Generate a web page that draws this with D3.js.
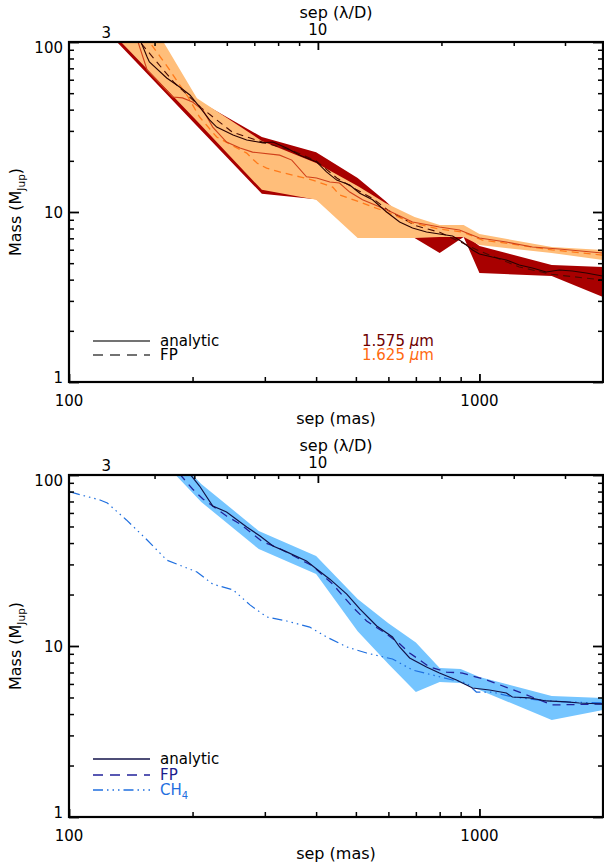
<!DOCTYPE html>
<html><head><meta charset="utf-8">
<script src="https://cdn.jsdelivr.net/npm/d3@7"></script>
<style>
body{margin:0;background:#fff}
svg{display:block}
text{font-family:"DejaVu Sans",sans-serif;font-size:15px;fill:#000}
text.title{font-size:16px}
</style>
</head><body>
<svg id="c" width="604" height="868"></svg>
<script>
// ---------------- DATA ----------------
const lambdaOverD_mas = 40.4;
const sepMajorTicks = [100, 1000];
const sepMinorTicks = [200,300,400,500,600,700,800,900];
const ldMajorTicks = [10];
const ldMinorTicks = [4,5,6,7,8,9,20,30,40];
const ldTickLabels = ["3","10"];
const ldTickLabelValues = [3,10];
const massMajorTicks = [1,10,100];
const massMinorTicks = [2,3,4,5,6,7,8,9,20,30,40,50,60,70,80,90];

// top panel: shaded envelopes (sep in mas, mass in M_Jup)
const bandSepTop = [100, 150, 205, 295, 400, 505, 590, 695, 800, 915, 1000, 1500, 2000];
const band1575Lo = [198, 70.7, 32.1, 12.8, 11.9, 8.27, 7.63, 7.03, 5.74, 7.13, 4.38, 4.20, 3.16];
const band1575Hi = [250, 110, 45.6, 27.6, 22.5, 15.85, 11.6, 8.05, 7.63, 7.42, 6.31, 4.88, 4.75];
const band1625Lo = [208, 75.2, 34.3, 13.5, 11.8, 7.03, 7.03, 7.03, 7.13, 7.13, 6.39, 5.74, 5.22];
const band1625Hi = [860, 166, 46.6, 26.2, 19.4, 14.2, 11.3, 9.35, 8.38, 8.38, 7.42, 6.22, 5.98];

// top panel curves [sep, mass]
const analytic1575 = [[149,102.8],[155,81.6],[157,76.3],[173,61.4],[186,54.4],[197,48.8],[208,41.5],[220,34.8],[229,31.6],[251,28.4],[271,26.5],[297,25.5],[314,25.8],[339,23.8],[365,21.6],[401,19.7],[424,17.2],[449,15.4],[483,14.4],[511,12.9],[549,11.8],[594,10.0],[639,8.73],[687,8.05],[743,7.63],[799,7.42],[860,7.23],[909,6.66],[962,5.98],[1000,5.66],[1075,5.43],[1163,5.22],[1251,4.88],[1346,4.68],[1455,4.44],[1565,4.56],[1684,4.50],[1821,4.38],[1992,4.20]];
const fp1575 = [[150,98],[180,58],[210,41],[250,29.5],[300,25.5],[350,23],[400,20],[450,15.8],[500,13.6],[550,12],[600,10.2],[700,8.3],[800,7.6],[910,6.57],[1000,5.9],[1250,4.75],[1500,4.3],[2000,3.98]];
const analytic1625 = [[147,101.4],[155,68.4],[179,47.5],[189,46.9],[200,44.4],[212,39.8],[224,31.6],[242,25.8],[261,23.8],[280,22.5],[326,21.6],[349,20.2],[379,16.1],[401,15.85],[432,15.0],[456,14.8],[483,13.1],[519,11.8],[594,10.3],[687,8.73],[799,8.16],[894,7.84],[1000,7.03],[1163,6.66],[1346,6.22],[1565,6.06],[1992,5.74]];
const fp1625 = [[159,96],[167,81.6],[176,68.4],[184,58.2],[195,47.5],[208,36.2],[229,27.6],[271,22.2],[287,19.4],[303,18.1],[326,17.2],[365,16.1],[392,15.4],[439,14.0],[456,12.6],[519,11.3],[594,10.0],[687,8.61],[799,7.94],[909,7.63],[1017,6.84],[1251,6.39],[1505,5.98],[1992,5.58]];

// bottom panel
const bandSepBot = [150, 210, 290, 400, 505, 600, 700, 800, 900, 1000, 1500, 2000];
const bandBlueLo = [163, 69.5, 36.9, 26.4, 12.2, 7.85, 5.38, 6.16, 6.08, 5.53, 3.69, 4.22];
const bandBlueHi = [204, 88.6, 47.1, 33.6, 18.8, 13.6, 10.5, 7.44, 7.34, 6.59, 5.10, 4.97];
const analyticBot = [[197,101.4],[208,86.2],[224,65.9],[242,60.8],[271,49.6],[292,44.0],[314,38.4],[339,35.5],[379,31.4],[401,28.2],[432,24.6],[475,20.1],[511,16.5],[562,13.1],[614,11.3],[639,9.87],[676,8.51],[743,7.54],[799,6.95],[879,6.33],[962,5.68],[1058,5.53],[1163,5.31],[1203,5.03],[1323,4.97],[1455,4.77],[1628,4.71],[1752,4.64],[2003,4.58]];
const fpBot = [[186,101.4],[200,82.8],[212,72.4],[242,57.6],[261,51.7],[297,40.5],[321,37.9],[392,29.4],[439,23.0],[491,16.9],[531,14.0],[594,11.75],[639,10.3],[676,9.10],[756,7.54],[831,7.04],[909,6.95],[1040,6.33],[1251,5.38],[1505,4.52],[2003,4.58]];
const ch4Bot = [[100.6,79.6],[119,71.4],[124,68.6],[138,54.6],[155,41.7],[173,31.8],[205,27.1],[224,23.0],[251,21.3],[276,17.4],[303,14.8],[339,14.0],[386,12.9],[424,11.3],[475,9.87],[531,9.10],[614,8.39],[687,7.24],[768,6.77],[860,6.33],[930,6.08],[983,5.38],[1075,5.38],[1203,5.03],[1400,4.83],[1628,4.71],[2003,4.64]];

// ---------------- DRAW ----------------
const svg = d3.select("#c");
const X0 = 69, X1 = 603;

function zipBand(sep, lo, hi){ return sep.map((s,i)=>({s, lo:lo[i], hi:hi[i]})); }

function drawPanel(idx, top, bottom, content, legend){
  const x = d3.scaleLog().domain([100,2000]).range([X0,X1]);
  const y = d3.scaleLog().domain([1,100]).range([bottom,top]);
  const xl = d3.scaleLog().domain([100/lambdaOverD_mas, 2000/lambdaOverD_mas]).range([X0,X1]);
  const clipId = "clip"+idx;
  svg.append("clipPath").attr("id",clipId).append("rect")
    .attr("x",X0).attr("y",top).attr("width",X1-X0).attr("height",bottom-top);
  const plot = svg.append("g").attr("clip-path",`url(#${clipId})`);
  content(plot,x,y);

  const styleAxis = (g,w)=>{ g.select(".domain").remove(); g.selectAll("line").attr("stroke","#000").attr("stroke-width",w); g.selectAll("text").remove(); };
  svg.append("g").attr("transform",`translate(0,${bottom})`).call(d3.axisBottom(x).tickValues(sepMajorTicks).tickSize(-8)).call(g=>styleAxis(g,1.8));
  svg.append("g").attr("transform",`translate(0,${bottom})`).call(d3.axisBottom(x).tickValues(sepMinorTicks).tickSize(-5)).call(g=>styleAxis(g,1.5));
  svg.append("g").attr("transform",`translate(0,${top})`).call(d3.axisTop(xl).tickValues(ldMajorTicks).tickSize(-8)).call(g=>styleAxis(g,1.8));
  svg.append("g").attr("transform",`translate(0,${top})`).call(d3.axisTop(xl).tickValues(ldMinorTicks).tickSize(-4)).call(g=>styleAxis(g,1.5));
  svg.append("g").attr("transform",`translate(${X0},0)`).call(d3.axisLeft(y).tickValues(massMajorTicks).tickSize(-10)).call(g=>styleAxis(g,1.8));
  svg.append("g").attr("transform",`translate(${X0},0)`).call(d3.axisLeft(y).tickValues(massMinorTicks).tickSize(-5)).call(g=>styleAxis(g,1.5));
  svg.append("g").attr("transform",`translate(${X1},0)`).call(d3.axisRight(y).tickValues(massMajorTicks).tickSize(-10)).call(g=>styleAxis(g,1.8));
  svg.append("g").attr("transform",`translate(${X1},0)`).call(d3.axisRight(y).tickValues(massMinorTicks).tickSize(-5)).call(g=>styleAxis(g,1.5));
  svg.append("rect").attr("x",X0).attr("y",top).attr("width",X1-X0).attr("height",bottom-top)
    .attr("fill","none").attr("stroke","#000").attr("stroke-width",2.2);

  const yOff = {100:11, 10:6, 1:1};
  massMajorTicks.forEach(v=>{
    svg.append("text").attr("x",63).attr("y",y(v)+yOff[v]).attr("text-anchor","end").text(String(v));
  });
  sepMajorTicks.forEach(v=>{
    svg.append("text").attr("x",x(v)).attr("y",bottom+24).attr("text-anchor","middle").text(String(v));
  });
  ldTickLabelValues.forEach((v,i)=>{
    svg.append("text").attr("x",xl(v)+(v===3?3:0)).attr("y",top-(v===3?4.5:7)).attr("text-anchor","middle").text(ldTickLabels[i]);
  });
  const cx = (X0+X1)/2;
  svg.append("text").attr("class","title").attr("x",cx).attr("y",bottom+42).attr("text-anchor","middle").text("sep (mas)");
  svg.append("text").attr("class","title").attr("x",cx).attr("y",top-24).attr("text-anchor","middle").text("sep (λ/D)");
  const cy = (top+bottom)/2;
  const yl = svg.append("text").attr("class","title").attr("transform",`translate(21,${cy}) rotate(-90)`).attr("text-anchor","middle");
  yl.append("tspan").text("Mass (M");
  yl.append("tspan").attr("font-size","10.5px").attr("dy",4).text("Jup");
  yl.append("tspan").attr("dy",-4).text(")");

  legend(bottom);
}

const line = (x,y)=>d3.line().x(d=>x(d[0])).y(d=>y(d[1]));
const area = (x,y)=>d3.area().x(d=>x(d.s)).y0(d=>y(d.lo)).y1(d=>y(d.hi));

function legendLine(y0, dash, color, labelColor){
  svg.append("line").attr("x1",93).attr("x2",150).attr("y1",y0).attr("y2",y0)
    .attr("stroke",color).attr("stroke-width",1.3).attr("stroke-dasharray",dash||null);
  return svg.append("text").attr("x",160).attr("y",y0+5).style("fill",labelColor);
}

// ---- top panel ----
drawPanel(0, 42, 382, (g,x,y)=>{
  g.append("path").datum(zipBand(bandSepTop,band1575Lo,band1575Hi)).attr("d",area(x,y)).attr("fill","#a80000");
  g.append("path").datum(zipBand(bandSepTop,band1625Lo,band1625Hi)).attr("d",area(x,y)).attr("fill","#ffbe7a");
  g.append("path").datum(fp1575).attr("d",line(x,y)).attr("fill","none").attr("stroke","#4a0a00").attr("stroke-width",1.1).attr("stroke-dasharray","7,5");
  g.append("path").datum(fp1625).attr("d",line(x,y)).attr("fill","none").attr("stroke","#ff7a1a").attr("stroke-width",1.3).attr("stroke-dasharray","7,5");
  g.append("path").datum(analytic1625).attr("d",line(x,y)).attr("fill","none").attr("stroke","#d0401a").attr("stroke-width",1.1);
  g.append("path").datum(analytic1575).attr("d",line(x,y)).attr("fill","none").attr("stroke","#2a0000").attr("stroke-width",1.1);
}, (bottom)=>{
  legendLine(bottom-41, null, "#444", "#000").text("analytic");
  legendLine(bottom-27, "10,7", "#444", "#000").text("FP");
  const t1 = svg.append("text").attr("x",362).attr("y",bottom-36).style("fill","#6e0000");
  t1.append("tspan").text("1.575 "); t1.append("tspan").attr("font-style","italic").text("μ"); t1.append("tspan").text("m");
  const t2 = svg.append("text").attr("x",362).attr("y",bottom-22).style("fill","#ff6a10");
  t2.append("tspan").text("1.625 "); t2.append("tspan").attr("font-style","italic").text("μ"); t2.append("tspan").text("m");
});

// ---- bottom panel ----
drawPanel(1, 475, 817, (g,x,y)=>{
  g.append("path").datum(zipBand(bandSepBot,bandBlueLo,bandBlueHi)).attr("d",area(x,y)).attr("fill","#75c5ff");
  g.append("path").datum(ch4Bot).attr("d",line(x,y)).attr("fill","none").attr("stroke","#1f6fdf").attr("stroke-width",1.2).attr("stroke-dasharray","10,4,1.5,4,1.5,4,1.5,4");
  g.append("path").datum(fpBot).attr("d",line(x,y)).attr("fill","none").attr("stroke","#22229a").attr("stroke-width",1.3).attr("stroke-dasharray","8,6");
  g.append("path").datum(analyticBot).attr("d",line(x,y)).attr("fill","none").attr("stroke","#12124a").attr("stroke-width",1.2);
}, (bottom)=>{
  legendLine(bottom-58, null, "#12124a", "#000").text("analytic");
  legendLine(bottom-42, "10,7", "#22229a", "#1c1c8c").text("FP");
  const t = legendLine(bottom-27, "10,4,1.5,4,1.5,4,1.5,4", "#1f6fdf", "#1f6fdf");
  t.append("tspan").text("CH");
  t.append("tspan").attr("font-size","10px").attr("dy",4).text("4");
});
</script>
</body></html>
